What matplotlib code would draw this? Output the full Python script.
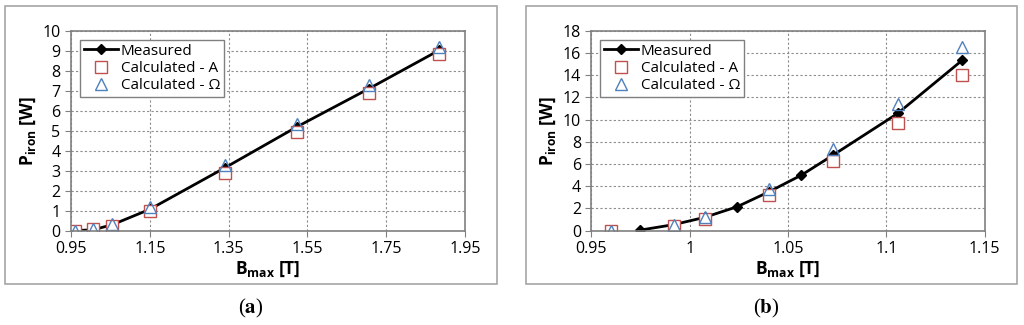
import matplotlib
matplotlib.use("Agg")
import matplotlib.pyplot as plt
from matplotlib.patches import Rectangle

plt.rcParams['font.family'] = ['Open Sans', 'DejaVu Sans']
plt.rcParams['mathtext.fontset'] = 'custom'
plt.rcParams['mathtext.rm'] = 'Open Sans'
plt.rcParams['mathtext.bf'] = 'Open Sans:bold'

# ---- data, panel (a) ----
b_a = [0.959, 1.007, 1.055, 1.15, 1.341, 1.524, 1.706, 1.885]
meas_a = [0.0, 0.05, 0.3, 1.07, 3.15, 5.2, 7.1, 9.03]
calc_A_a = [0.0, 0.07, 0.25, 1.0, 2.9, 4.93, 6.87, 8.82]
calc_O_a = [0.0, 0.07, 0.33, 1.17, 3.3, 5.33, 7.3, 9.2]

# ---- data, panel (b) ----
b_meas_b = [0.9747, 0.992, 1.0076, 1.0242, 1.0403, 1.0568, 1.0729, 1.1058, 1.1385]
meas_b = [0.05, 0.55, 1.2, 2.16, 3.5, 5.0, 6.8, 10.56, 15.33]
b_calc_b = [0.96, 0.992, 1.0076, 1.0403, 1.0729, 1.1058, 1.1385]
calc_A_b = [0.0, 0.45, 1.08, 3.24, 6.27, 9.66, 14.04]
calc_O_b = [0.0, 0.48, 1.26, 3.78, 7.35, 11.4, 16.56]

xt_a = [0.95, 1.15, 1.35, 1.55, 1.75, 1.95]
xt_b = [0.95, 1.0, 1.05, 1.1, 1.15]
xt_b_lab = ["0.95", "1", "1.05", "1.1", "1.15"]

red = "#C0504D"
blue = "#4F81BD"

fig = plt.figure(figsize=(10.24, 3.25), dpi=100)

# panel frames
for x0, w in [(5, 492), (526, 491)]:
    fig.patches.append(Rectangle((x0/1024, 1-284/325), w/1024, 278/325,
                                 transform=fig.transFigure, fill=False,
                                 edgecolor="#A6A6A6", lw=1.2))

ax1 = fig.add_axes([71/1024, 1-230.7/325, 394/1024, 200/325])
ax2 = fig.add_axes([591.3/1024, 1-230.7/325, 393.4/1024, 200/325])


def style(ax):
    ax.grid(True, linestyle=(0, (2, 2)), color="#8C8C8C", lw=0.8)
    ax.set_axisbelow(True)
    for s in ax.spines.values():
        s.set_color("#808080")
        s.set_linewidth(1.2)
    ax.tick_params(labelsize=11.5, length=4, color="#808080", direction="out")
    ax.set_xlabel(r"$\mathbf{B_{max}}$ $\mathbf{[T]}$", fontsize=12.5, labelpad=2)
    ax.set_ylabel(r"$\mathbf{P_{iron}}$ $\mathbf{[W]}$", fontsize=12.5, labelpad=3)


ax1.plot(b_a, meas_a, color="black", lw=2, marker="D", ms=5, label="Measured")
ax1.plot(b_a, calc_A_a, ls="none", marker="s", ms=8, mfc="white", mec=red, mew=1, label="Calculated - A")
ax1.plot(b_a, calc_O_a, ls="none", marker="^", ms=8, mfc="none", mec=blue, mew=1, label="Calculated - Ω")
ax1.set_xlim(0.95, 1.95)
ax1.set_ylim(0, 10)
ax1.set_xticks(xt_a)
ax1.set_xticklabels([f"{v:.2f}" for v in xt_a])
ax1.set_yticks(range(0, 11))
style(ax1)

ax2.plot(b_meas_b, meas_b, color="black", lw=2, marker="D", ms=5, label="Measured")
ax2.plot(b_calc_b, calc_A_b, ls="none", marker="s", ms=8, mfc="white", mec=red, mew=1, label="Calculated - A")
ax2.plot(b_calc_b, calc_O_b, ls="none", marker="^", ms=8, mfc="none", mec=blue, mew=1, label="Calculated - Ω")
ax2.set_xlim(0.95, 1.15)
ax2.set_ylim(0, 18)
ax2.set_xticks(xt_b)
ax2.set_xticklabels(xt_b_lab)
ax2.set_yticks(range(0, 19, 2))
style(ax2)

for ax in (ax1, ax2):
    leg = ax.legend(loc="upper left", fontsize=11, fancybox=False, framealpha=1,
                    edgecolor="#808080", borderpad=0.25, labelspacing=0.15,
                    handlelength=2.2, handletextpad=0.2, borderaxespad=0.6)
    leg.get_frame().set_linewidth(1.0)

fig.text(251/1024, 1-308/325, r"($\mathbf{a}$)", ha="center", va="center",
         fontsize=15, family="Liberation Serif", math_fontfamily="stix")
fig.text(766/1024, 1-308/325, r"($\mathbf{b}$)", ha="center", va="center",
         fontsize=15, family="Liberation Serif", math_fontfamily="stix")

fig.savefig("out.png", dpi=100)
